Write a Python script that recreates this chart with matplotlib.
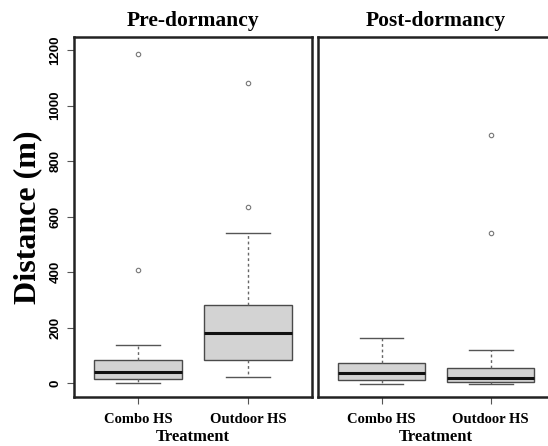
import matplotlib
matplotlib.use("Agg")
import matplotlib.pyplot as plt

categories = ["Combo HS", "Outdoor HS"]
panels = ["Pre-dormancy", "Post-dormancy"]

# stats per panel: [whislo, q1, med, q3, whishi], outliers
pre_stats = [[0, 17, 42, 84, 140], [24, 84, 180, 281, 543]]
pre_fliers = [[1184, 408], [1083, 636]]
post_stats = [[-2, 11, 38, 74, 164], [-3, 6, 18, 54, 120]]
post_fliers = [[], [893, 540]]

yticks = [0, 200, 400, 600, 800, 1000, 1200]

serif = ["Liberation Serif", "DejaVu Serif"]
sans = ["Liberation Sans", "DejaVu Sans"]

fig = plt.figure(figsize=(5.48, 4.46), dpi=100)
ax1 = fig.add_axes([74/548, 1-397.3/446, 238/548, 360.6/446])
ax2 = fig.add_axes([318.3/548, 1-397.3/446, 235.7/548, 360.6/446])

def draw(ax, stats, fliers, title):
    bx = []
    for c, s, f in zip(categories, stats, fliers):
        bx.append(dict(label=c, whislo=s[0], q1=s[1], med=s[2], q3=s[3], whishi=s[4], fliers=f))
    ax.bxp(bx, positions=[1, 2], widths=0.8, patch_artist=True, showfliers=True,
           boxprops=dict(facecolor="#d3d3d3", edgecolor="#4a4a4a", linewidth=1.0),
           medianprops=dict(color="#111111", linewidth=2.2),
           whiskerprops=dict(color="#666666", linewidth=1.0, linestyle=(0, (2, 2))),
           capprops=dict(color="#555555", linewidth=1.0),
           flierprops=dict(marker="o", markersize=3.2, markerfacecolor="none",
                           markeredgecolor="#777777", markeredgewidth=0.8))
    ax.set_xlim(0.42, 2.58)
    ax.set_ylim(-50, 1248)
    for sp in ax.spines.values():
        sp.set_linewidth(1.8)
        sp.set_color("#222222")
    ax.set_xticks([1, 2])
    ax.set_xticklabels(categories, fontfamily=serif, fontweight="bold", fontsize=10.5)
    ax.tick_params(axis="x", length=5, width=0.8, color="#555555", pad=6)
    ax.set_xlabel("Treatment", fontfamily=serif, fontweight="bold", fontsize=12, labelpad=2.5)
    ax.set_title(title, fontfamily=serif, fontweight="bold", fontsize=15.5, pad=8)

draw(ax1, pre_stats, pre_fliers, panels[0])
draw(ax2, post_stats, post_fliers, panels[1])

ax1.set_yticks(yticks)
ax1.set_yticklabels([str(t) for t in yticks], rotation=90, va="center",
                    fontfamily=sans, fontweight="bold", fontsize=9.5)
ax1.tick_params(axis="y", length=5, width=0.8, color="#555555", pad=4)
ax1.set_ylabel("Distance (m)", fontfamily=serif, fontweight="bold", fontsize=23, labelpad=5)
ax2.set_yticks([])

fig.savefig("out.png", dpi=100)
